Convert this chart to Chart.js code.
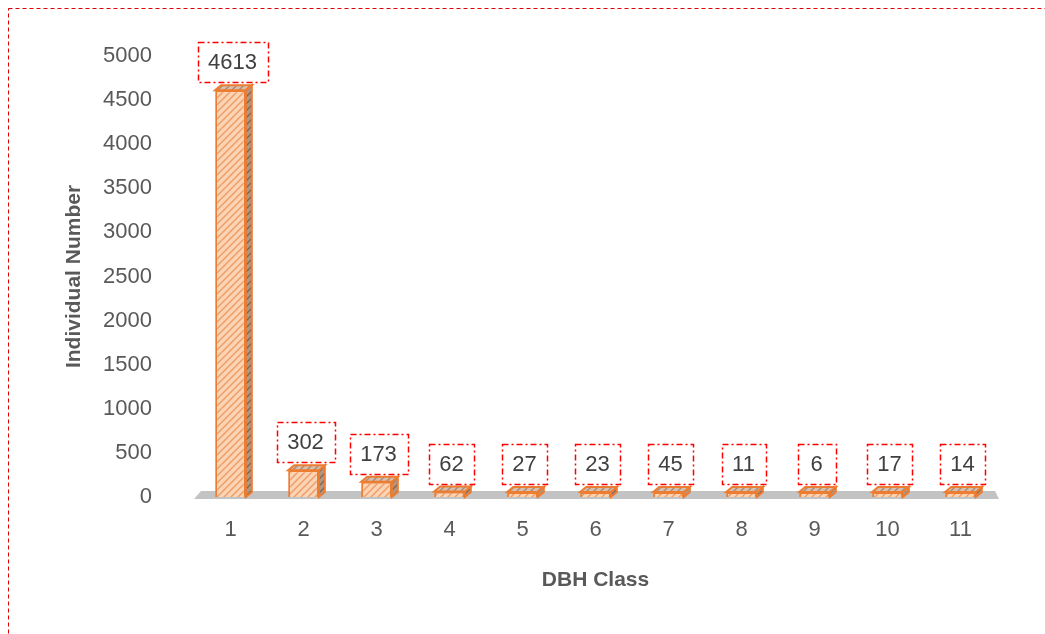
<!DOCTYPE html>
<html>
<head>
<meta charset="utf-8">
<script src="https://cdn.jsdelivr.net/npm/chart.js@4/dist/chart.umd.min.js"></script>
<style>
  html, body { margin: 0; padding: 0; background: #fff; }
  canvas { display: block; }
</style>
</head>
<body>
<canvas id="dbhChart" width="1045" height="634"></canvas>
<script>
const categories = ["1", "2", "3", "4", "5", "6", "7", "8", "9", "10", "11"];
const counts = [4613, 302, 173, 62, 27, 23, 45, 11, 6, 17, 14];
const yTicks = [0, 500, 1000, 1500, 2000, 2500, 3000, 3500, 4000, 4500, 5000];

const orange = "#ed7d31";
const textGray = "#595959";
const fontFamily = "'Liberation Sans', Arial, sans-serif";
const labelFont = "22px " + fontFamily;
const depthX = 6;
const depthY = 5;

function hatch(bg, line) {
  const c = document.createElement("canvas");
  c.width = c.height = 7;
  const g = c.getContext("2d");
  g.fillStyle = bg;
  g.fillRect(0, 0, 7, 7);
  g.strokeStyle = line;
  g.lineWidth = 1.4;
  g.beginPath();
  g.moveTo(0, 7); g.lineTo(7, 0);
  g.moveTo(-2, 2); g.lineTo(2, -2);
  g.moveTo(5, 9); g.lineTo(9, 5);
  g.stroke();
  return g.createPattern(c, "repeat");
}

const frontFill = hatch("#fbd3b5", "#ee9c63");
const sideFill = hatch("#b09684", "#86634c");
const topFill = hatch("#d6bfae", "#a98a74");

// floor + 3D faces behind the front of each bar
const box3d = {
  id: "box3d",
  beforeDatasetsDraw(chart) {
    const { ctx, chartArea } = chart;
    const b = chartArea.bottom;
    ctx.save();
    ctx.fillStyle = "#c3c3c3";
    ctx.beginPath();
    ctx.moveTo(chartArea.left, b + 2);
    ctx.lineTo(chartArea.left + 7, b - 6);
    ctx.lineTo(chartArea.right - 2, b - 6);
    ctx.lineTo(chartArea.right + 2, b + 2);
    ctx.closePath();
    ctx.fill();

    chart.getDatasetMeta(0).data.forEach((el) => {
      const w = el.width;
      const l = el.x - w / 2;
      const r = el.x + w / 2;
      ctx.lineWidth = 2;
      ctx.strokeStyle = orange;
      ctx.fillStyle = sideFill;
      ctx.beginPath();
      ctx.moveTo(r, el.y);
      ctx.lineTo(r + depthX, el.y - depthY);
      ctx.lineTo(r + depthX, el.base - depthY);
      ctx.lineTo(r, el.base);
      ctx.closePath();
      ctx.fill();
      ctx.stroke();
      ctx.fillStyle = topFill;
      ctx.beginPath();
      ctx.moveTo(l, el.y);
      ctx.lineTo(l + depthX, el.y - depthY);
      ctx.lineTo(r + depthX, el.y - depthY);
      ctx.lineTo(r, el.y);
      ctx.closePath();
      ctx.fill();
      ctx.stroke();
    });
    ctx.restore();
  },
  afterDatasetsDraw(chart) {
    const { ctx } = chart;
    ctx.save();
    ctx.font = labelFont;
    ctx.textAlign = "center";
    ctx.textBaseline = "middle";
    chart.getDatasetMeta(0).data.forEach((el, i) => {
      const txt = String(counts[i]);
      const tw = ctx.measureText(txt).width;
      const bw = Math.max(tw + 21, 38);
      const bh = 40;
      const cx = el.x + 2;
      const bottom = el.y - depthY - 3;
      ctx.setLineDash([6, 3, 2, 3]);
      ctx.lineWidth = 1.5;
      ctx.strokeStyle = "#ff0000";
      ctx.strokeRect(Math.round(cx - bw / 2) + 0.5, Math.round(bottom - bh) + 0.5, Math.round(bw), bh);
      ctx.setLineDash([]);
      ctx.fillStyle = "#404040";
      ctx.fillText(txt, cx, bottom - bh / 2 + 1);
    });
    ctx.restore();
  },
  afterDraw(chart) {
    const { ctx } = chart;
    ctx.save();
    ctx.setLineDash([4, 3]);
    ctx.lineWidth = 1;
    ctx.strokeStyle = "#e00000";
    ctx.strokeRect(8.5, 8.5, 1100, 700);
    ctx.restore();
  }
};

new Chart(document.getElementById("dbhChart"), {
  type: "bar",
  data: {
    labels: categories,
    datasets: [{
      data: counts,
      backgroundColor: frontFill,
      borderColor: orange,
      borderWidth: 2,
      barPercentage: 0.84,
      categoryPercentage: 0.5,
      minBarLength: 5
    }]
  },
  options: {
    responsive: false,
    animation: false,
    layout: { padding: { left: 58, right: 48, top: 56, bottom: 37 } },
    plugins: { legend: { display: false }, tooltip: { enabled: false } },
    scales: {
      x: {
        grid: { display: false, drawTicks: false },
        border: { display: false },
        ticks: { color: textGray, font: { family: fontFamily, size: 22 }, padding: 20, maxRotation: 0 },
        title: { display: true, text: "DBH Class", color: textGray, font: { family: fontFamily, size: 21, weight: "bold" } },
        afterFit(scale) { scale.height = 100; }
      },
      y: {
        min: 0,
        max: 5000,
        grid: { display: false, drawTicks: false },
        border: { display: false },
        afterBuildTicks(scale) { scale.ticks = yTicks.map(v => ({ value: v })); },
        ticks: { color: textGray, font: { family: fontFamily, size: 22 }, padding: 42, callback: (v) => String(v) },
        title: { display: true, text: "Individual Number", color: textGray, font: { family: fontFamily, size: 21, weight: "bold" } },
        afterFit(scale) { scale.width = 136; }
      }
    }
  },
  plugins: [box3d]
});
</script>
</body>
</html>
